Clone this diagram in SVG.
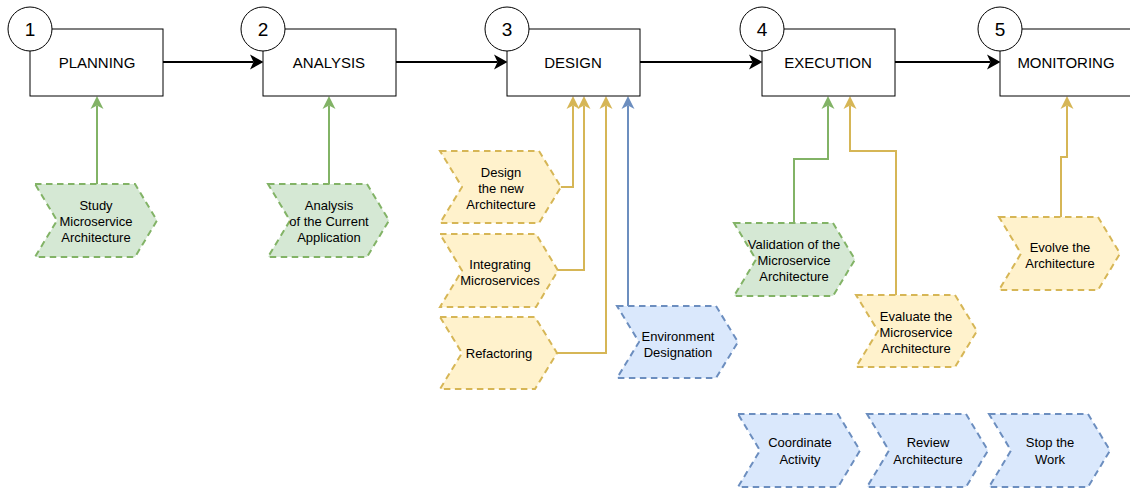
<svg xmlns="http://www.w3.org/2000/svg" width="1130" height="488" viewBox="0 0 1130 488">
  <defs>
    <style>
      .stage rect { fill: #ffffff; stroke: #000000; stroke-width: 1; }
      .stage circle { fill: #ffffff; stroke: #000000; stroke-width: 1; }
      .stage .title { font-family: "Liberation Sans", Arial, sans-serif; font-size: 15px; fill: #000000; text-anchor: middle; }
      .stage .num { font-family: "Liberation Sans", Arial, sans-serif; font-size: 19px; fill: #000000; text-anchor: middle; }
      .step polygon { stroke-width: 2; stroke-dasharray: 6.5 4.5; }
      .step text { font-family: "Liberation Sans", Arial, sans-serif; font-size: 13px; fill: #000000; text-anchor: middle; }
      .green polygon { fill: #d5e8d4; stroke: #82b366; }
      .yellow polygon { fill: #fff2cc; stroke: #d6b656; }
      .blue polygon { fill: #dae8fc; stroke: #6c8ebf; }
      .flow { fill: none; stroke: #000000; stroke-width: 2; marker-end: url(#arrowBlack); }
      .feed { fill: none; stroke-width: 2; }
      .feed.g { stroke: #82b366; marker-end: url(#arrowGreen); }
      .feed.y { stroke: #d6b656; marker-end: url(#arrowYellow); }
      .feed.b { stroke: #6c8ebf; marker-end: url(#arrowBlue); }
    </style>
    <marker id="arrowBlack" viewBox="0 0 14 16" refX="3.5" refY="8" markerWidth="14" markerHeight="16" markerUnits="userSpaceOnUse" orient="auto">
      <path d="M0,0.5 L13.5,8 L0,15.5 L3.5,8 Z" fill="#000000"/>
    </marker>
    <marker id="arrowGreen" viewBox="0 0 14 14" refX="3.5" refY="7" markerWidth="14" markerHeight="14" markerUnits="userSpaceOnUse" orient="auto">
      <path d="M0,0.5 L13,7 L0,13.5 L3.5,7 Z" fill="#82b366"/>
    </marker>
    <marker id="arrowYellow" viewBox="0 0 14 14" refX="3.5" refY="7" markerWidth="14" markerHeight="14" markerUnits="userSpaceOnUse" orient="auto">
      <path d="M0,0.5 L13,7 L0,13.5 L3.5,7 Z" fill="#d6b656"/>
    </marker>
    <marker id="arrowBlue" viewBox="0 0 14 14" refX="3.5" refY="7" markerWidth="14" markerHeight="14" markerUnits="userSpaceOnUse" orient="auto">
      <path d="M0,0.5 L13,7 L0,13.5 L3.5,7 Z" fill="#6c8ebf"/>
    </marker>
  </defs>

  <rect width="1130" height="488" fill="#ffffff"/>

  <!-- connectors -->
  <g id="connectors">
    <!-- main phase flow -->
    <path class="flow" d="M163,62 L253.5,62"/>
    <path class="flow" d="M396,62 L497.5,62"/>
    <path class="flow" d="M640,62 L752.5,62"/>
    <path class="flow" d="M895,62 L990.5,62"/>
    <!-- activities feeding phases -->
    <path class="feed g" d="M97,184 L97,105.5"/>
    <path class="feed g" d="M329,184 L329,105.5"/>
    <path class="feed y" d="M561,187 L573,187 L573,105.5"/>
    <path class="feed y" d="M558,270 L584,270 L584,105.5"/>
    <path class="feed y" d="M557,353 L606,353 L606,105.5"/>
    <path class="feed b" d="M628,306 L628,105.5"/>
    <path class="feed g" d="M794,223 L794,159 L828,159 L828,105.5"/>
    <path class="feed y" d="M896,295 L896,151 L850,151 L850,105.5"/>
    <path class="feed y" d="M1061,217 L1061,157 L1067,157 L1067,105.5"/>
  </g>

  <!-- phases -->
  <g id="planning" class="stage">
    <rect x="30" y="29" width="133" height="67"/>
    <circle cx="30" cy="29" r="22"/>
    <text class="num" x="30" y="36">1</text>
    <text class="title" x="97" y="67.5">PLANNING</text>
  </g>
  <g id="analysis" class="stage">
    <rect x="263" y="29" width="133" height="67"/>
    <circle cx="263" cy="29" r="22"/>
    <text class="num" x="263" y="36">2</text>
    <text class="title" x="329" y="67.5">ANALYSIS</text>
  </g>
  <g id="design" class="stage">
    <rect x="507" y="29" width="133" height="67"/>
    <circle cx="507" cy="29" r="22"/>
    <text class="num" x="507" y="36">3</text>
    <text class="title" x="573" y="67.5">DESIGN</text>
  </g>
  <g id="execution" class="stage">
    <rect x="762" y="29" width="133" height="67"/>
    <circle cx="762" cy="29" r="22"/>
    <text class="num" x="762" y="36">4</text>
    <text class="title" x="828" y="67.5">EXECUTION</text>
  </g>
  <g id="monitoring" class="stage">
    <rect x="1000" y="29" width="133" height="67"/>
    <circle cx="1000" cy="29" r="22"/>
    <text class="num" x="1000" y="36">5</text>
    <text class="title" x="1066" y="67.5">MONITORING</text>
  </g>

  <!-- activities -->
  <g id="study" class="step green">
    <polygon points="35,184 135,184 157,220.5 135,257 35,257 57,220.5"/>
    <text x="96" y="209.5">Study</text>
    <text x="96" y="225.5">Microservice</text>
    <text x="96" y="241.5">Architecture</text>
  </g>
  <g id="analysis-current" class="step green">
    <polygon points="268,184 367,184 389,220.5 367,257 268,257 290,220.5"/>
    <text x="329" y="209.5">Analysis</text>
    <text x="329" y="225.5">of the Current</text>
    <text x="329" y="241.5">Application</text>
  </g>
  <g id="design-new" class="step yellow">
    <polygon points="440,151 539,151 561,187 539,223 440,223 462,187"/>
    <text x="501" y="176.5">Design</text>
    <text x="501" y="192.5">the new</text>
    <text x="501" y="208.5">Architecture</text>
  </g>
  <g id="integrating" class="step yellow">
    <polygon points="440,234 536,234 558,270.5 536,307 440,307 462,270.5"/>
    <text x="500" y="268.5">Integrating</text>
    <text x="500" y="284.5">Microservices</text>
  </g>
  <g id="refactoring" class="step yellow">
    <polygon points="440,317 535,317 557,353 535,389 440,389 462,353"/>
    <text x="499" y="357.5">Refactoring</text>
  </g>
  <g id="environment" class="step blue">
    <polygon points="617,306 716,306 738,342 716,378 617,378 639,342"/>
    <text x="678" y="340.5">Environment</text>
    <text x="678" y="356.5">Designation</text>
  </g>
  <g id="validation" class="step green">
    <polygon points="734,223 833,223 855,259.5 833,296 734,296 756,259.5"/>
    <text x="794" y="248.5">Validation of the</text>
    <text x="794" y="264.5">Microservice</text>
    <text x="794" y="280.5">Architecture</text>
  </g>
  <g id="evaluate" class="step yellow">
    <polygon points="856,295 955,295 977,331 955,367 856,367 878,331"/>
    <text x="916" y="320.5">Evaluate the</text>
    <text x="916" y="336.5">Microservice</text>
    <text x="916" y="352.5">Architecture</text>
  </g>
  <g id="evolve" class="step yellow">
    <polygon points="999,217 1098,217 1120,253.5 1098,290 999,290 1021,253.5"/>
    <text x="1060" y="251.5">Evolve the</text>
    <text x="1060" y="267.5">Architecture</text>
  </g>
  <g id="coordinate" class="step blue">
    <polygon points="738,414 838,414 860,450.5 838,487 738,487 760,450.5"/>
    <text x="800" y="446.5">Coordinate</text>
    <text x="800" y="463.5">Activity</text>
  </g>
  <g id="review" class="step blue">
    <polygon points="867,414 966,414 988,450.5 966,487 867,487 889,450.5"/>
    <text x="928" y="446.5">Review</text>
    <text x="928" y="463.5">Architecture</text>
  </g>
  <g id="stop" class="step blue">
    <polygon points="989,414 1088,414 1110,450.5 1088,487 989,487 1011,450.5"/>
    <text x="1050" y="446.5">Stop the</text>
    <text x="1050" y="463.5">Work</text>
  </g>
</svg>
